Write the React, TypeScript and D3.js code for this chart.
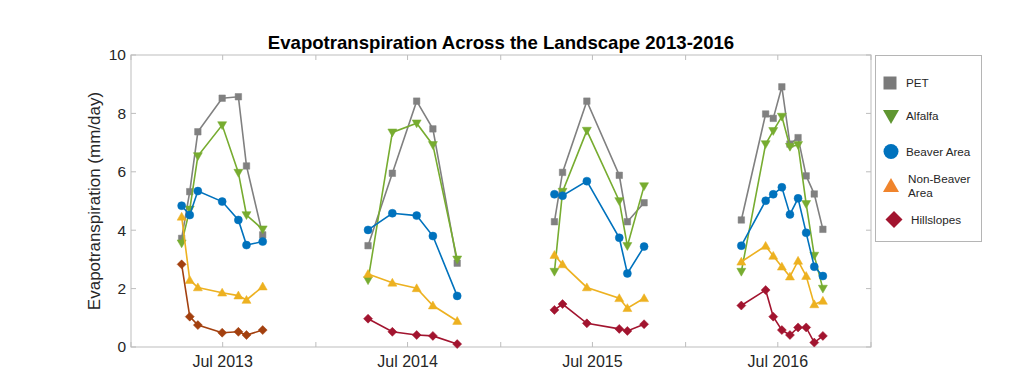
import React from "react";
import * as d3 from "d3";

const dates = [
  "2013-04-11", "2013-04-27", "2013-05-13", "2013-06-30", "2013-08-01", "2013-08-17", "2013-09-18",
  "2014-04-14", "2014-06-01", "2014-07-19", "2014-08-20", "2014-10-07",
  "2015-04-17", "2015-05-03", "2015-06-20", "2015-08-23", "2015-09-08", "2015-10-11",
  "2016-04-20", "2016-06-07", "2016-06-22", "2016-07-09", "2016-07-25", "2016-08-10", "2016-08-26", "2016-09-11", "2016-09-28",
];
const segmentLengths = [7, 5, 6, 9];

const pet = [3.72, 5.32, 7.37, 8.52, 8.57, 6.2, 3.84, 3.47, 5.95, 8.42, 7.47, 2.87, 4.29, 5.98, 8.42, 5.88, 4.29, 4.94, 4.35, 7.98, 7.83, 8.91, 6.95, 7.17, 5.86, 5.24, 4.03];
const alfalfa = [3.55, 4.71, 6.54, 7.6, 5.97, 4.52, 4.03, 2.29, 7.35, 7.66, 6.92, 3.0, 2.58, 5.32, 7.41, 5.0, 3.46, 5.51, 2.58, 6.95, 7.4, 7.89, 6.86, 6.92, 4.9, 3.13, 2.0];
const beaver = [4.84, 4.52, 5.34, 4.98, 4.35, 3.49, 3.61, 4.01, 4.58, 4.5, 3.8, 1.75, 5.23, 5.18, 5.68, 3.74, 2.52, 3.44, 3.47, 5.01, 5.23, 5.47, 4.54, 5.09, 3.91, 2.75, 2.43];
const nonBeaver = [4.46, 2.29, 2.04, 1.86, 1.76, 1.61, 2.07, 2.5, 2.2, 2.01, 1.42, 0.89, 3.15, 2.83, 2.04, 1.67, 1.33, 1.67, 2.92, 3.46, 3.12, 2.75, 2.41, 2.95, 2.43, 1.46, 1.58];
const hillslopes = [2.83, 1.04, 0.75, 0.49, 0.52, 0.41, 0.58, 0.97, 0.52, 0.41, 0.38, 0.1, 1.27, 1.47, 0.81, 0.62, 0.55, 0.78, 1.42, 1.95, 1.04, 0.58, 0.41, 0.67, 0.67, 0.15, 0.38];

const yTicks = [0, 2, 4, 6, 8, 10];
const xTickDates = ["2013-01-01", "2013-07-01", "2014-01-01", "2014-07-01", "2015-01-01", "2015-07-01", "2016-01-01", "2016-07-01", "2017-01-01"];
const xLabelDates = ["2013-07-01", "2014-07-01", "2015-07-01", "2016-07-01"];

type Shape = "square" | "down" | "circle" | "up" | "diamond";
const seriesNames = ["PET", "Alfalfa", "Beaver Area", "Non-Beaver Area", "Hillslopes"];
const seriesValues = [pet, alfalfa, beaver, nonBeaver, hillslopes];
const seriesShapes: Shape[] = ["square", "down", "circle", "up", "diamond"];
const seriesColors = [
  ["#808080", "#808080", "#808080", "#808080"],
  ["#77AC30", "#77AC30", "#77AC30", "#77AC30"],
  ["#0072BD", "#0072BD", "#0072BD", "#0072BD"],
  ["#EDB120", "#EDB120", "#EDB120", "#EDB120"],
  ["#A3400F", "#A2142F", "#A2142F", "#A2142F"],
];
const legendColors = ["#7a7a7a", "#5F9631", "#0072BD", "#F0842C", "#A2142F"];

function markerPath(shape: Shape, s: number): string {
  const h = s / 2;
  switch (shape) {
    case "square":
      return `M${-h},${-h}H${h}V${h}H${-h}Z`;
    case "down":
      return `M${-h},${-h * 0.75}L${h},${-h * 0.75}L0,${h * 1.0}Z`;
    case "up":
      return `M${-h},${h * 0.75}L${h},${h * 0.75}L0,${-h * 1.0}Z`;
    case "diamond":
      return `M0,${-h}L${h},0L0,${h}L${-h},0Z`;
    default:
      return d3.symbol(d3.symbolCircle, Math.PI * h * h)() || "";
  }
}

const markerSizes: Record<Shape, number> = { square: 6.5, down: 9, circle: 8, up: 9, diamond: 9 };
const legendSizes: Record<Shape, number> = { square: 13, down: 16, circle: 15, up: 16, diamond: 17 };

export default function App() {
  const width = 1024;
  const height = 382;
  const left = 131;
  const right = 871;
  const top = 55;
  const bottom = 347;
  const parse = d3.timeParse("%Y-%m-%d");
  const x = d3.scaleTime().domain([parse("2013-01-01")!, parse("2017-01-01")!]).range([left, right]);
  const y = d3.scaleLinear().domain([0, 10]).range([bottom, top]);
  const axisColor = "#bdbdbd";
  const textColor = "#262626";
  const font = "'Liberation Sans', Arial, Helvetica, sans-serif";

  const segments: { start: number; end: number; seg: number }[] = [];
  let s0 = 0;
  segmentLengths.forEach((n, i) => {
    segments.push({ start: s0, end: s0 + n, seg: i });
    s0 += n;
  });

  const line = d3
    .line<[number, number]>()
    .x((d) => d[0])
    .y((d) => d[1]);

  const legendItems = [
    { y: 83, lines: ["PET"], mx: 890, tx: 906 },
    { y: 116, lines: ["Alfalfa"], mx: 891, tx: 906 },
    { y: 151.5, lines: ["Beaver Area"], mx: 891, tx: 906 },
    { y: 186, lines: ["Non-Beaver", "Area"], mx: 891, tx: 908 },
    { y: 219.5, lines: ["Hillslopes"], mx: 894, tx: 911 },
  ];

  return (
    <svg width={width} height={height} style={{ position: "absolute", left: 0, top: 0, background: "#fff" }} fontFamily={font}>
      <rect x={0} y={0} width={width} height={height} fill="#fff" />
      {/* axes box */}
      <rect x={left} y={top} width={right - left} height={bottom - top} fill="none" stroke={axisColor} strokeWidth={1} />
      {/* y ticks */}
      {yTicks.map((t) => (
        <g key={"y" + t}>
          <line x1={left} x2={left + 5} y1={y(t)} y2={y(t)} stroke={axisColor} />
          <line x1={right} x2={right - 5} y1={y(t)} y2={y(t)} stroke={axisColor} />
          <text x={left - 5} y={y(t)} dy="0.35em" textAnchor="end" fontSize={15.5} fill={textColor}>
            {t}
          </text>
        </g>
      ))}
      {/* x ticks */}
      {xTickDates.map((ds) => {
        const xx = x(parse(ds)!);
        return (
          <g key={"x" + ds}>
            <line x1={xx} x2={xx} y1={bottom} y2={bottom - 5} stroke={axisColor} />
            <line x1={xx} x2={xx} y1={top} y2={top + 5} stroke={axisColor} />
          </g>
        );
      })}
      {xLabelDates.map((ds) => (
        <text key={"xl" + ds} x={x(parse(ds)!)} y={367} textAnchor="middle" fontSize={16} fill={textColor}>
          {d3.timeFormat("%b %Y")(parse(ds)!)}
        </text>
      ))}
      {/* y label */}
      <text transform={`translate(100,${(top + bottom) / 2}) rotate(-90)`} textAnchor="middle" fontSize={17} fill={textColor}>
        Evapotranspiration (mm/day)
      </text>
      {/* title */}
      <text x={(left + right) / 2} y={48.5} textAnchor="middle" fontSize={18.6} fontWeight="bold" fill="#000">
        Evapotranspiration Across the Landscape 2013-2016
      </text>
      {/* series */}
      {seriesValues.map((vals, si) => (
        <g key={"s" + si}>
          {segments.map((sg) => {
            const pts: [number, number][] = [];
            for (let i = sg.start; i < sg.end; i++) pts.push([x(parse(dates[i])!), y(vals[i])]);
            const color = seriesColors[si][sg.seg];
            return (
              <g key={"seg" + sg.seg}>
                <path d={line(pts) || ""} fill="none" stroke={color} strokeWidth={1.6} />
                {pts.map((p, k) => (
                  <path
                    key={k}
                    d={markerPath(seriesShapes[si], markerSizes[seriesShapes[si]])}
                    transform={`translate(${p[0]},${p[1]})`}
                    fill={color}
                    stroke={color}
                    strokeWidth={0.5}
                  />
                ))}
              </g>
            );
          })}
        </g>
      ))}
      {/* legend */}
      <rect x={875.5} y={55.5} width={106} height={186} fill="#fff" stroke="#b5b5b5" strokeWidth={1} />
      {legendItems.map((it, i) => (
        <g key={"lg" + i}>
          <path
            d={markerPath(seriesShapes[i], legendSizes[seriesShapes[i]])}
            transform={`translate(${it.mx},${it.y})`}
            fill={legendColors[i]}
          />
          {it.lines.length === 1 ? (
            <text x={it.tx} y={it.y} dy="0.35em" fontSize={11.7} fill={textColor}>
              {it.lines[0]}
            </text>
          ) : (
            <text x={it.tx} y={it.y} fontSize={11.7} fill={textColor}>
              <tspan x={it.tx} dy="-0.25em">{it.lines[0]}</tspan>
              <tspan x={it.tx} dy="1.15em">{it.lines[1]}</tspan>
            </text>
          )}
        </g>
      ))}
    </svg>
  );
}
